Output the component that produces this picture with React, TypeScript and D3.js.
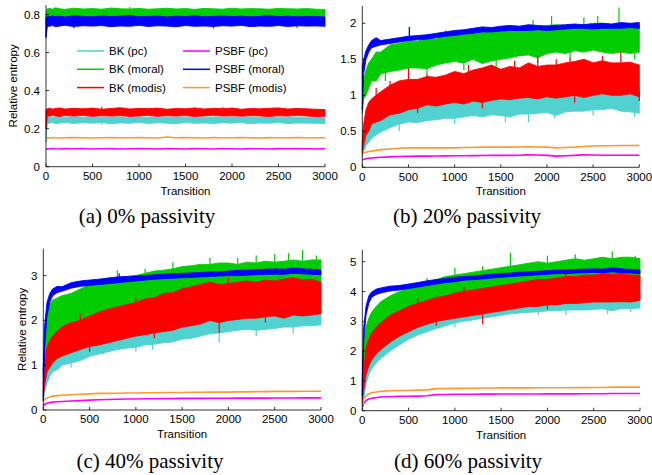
import React from 'react';
import * as d3 from 'd3';

// ---------- shared categories ----------
const T = [0, 15, 40, 70, 100, 150, 200, 300, 400, 500, 600, 700, 800, 900, 1000, 1100, 1200, 1300, 1400, 1500, 1600, 1700, 1800, 1900, 2000, 2100, 2200, 2300, 2400, 2500, 2600, 2700, 2800, 2900, 3000];
const X_TICKS = [0, 500, 1000, 1500, 2000, 2500, 3000];
const SERIES_NAMES = ['BK (pc)', 'BK (moral)', 'BK (modis)', 'PSBF (pc)', 'PSBF (moral)', 'PSBF (modis)'];
const CAPTIONS = ['(a) 0% passivity', '(b) 20% passivity', '(c) 40% passivity', '(d) 60% passivity'];
const Y_TICKS_A = [0, 0.2, 0.4, 0.6, 0.8];
const Y_TICKS_B = [0, 0.5, 1, 1.5, 2];
const Y_TICKS_C = [0, 1, 2, 3];
const Y_TICKS_D = [0, 1, 2, 3, 4, 5];

// ---------- (a) 0% passivity ----------
const A_CYAN_LO = [0.13, 0.23, 0.228, 0.232, 0.226, 0.23, 0.233, 0.227, 0.231, 0.229, 0.232, 0.226, 0.23, 0.228, 0.233, 0.227, 0.231, 0.229, 0.226, 0.232, 0.228, 0.23, 0.227, 0.231, 0.229, 0.233, 0.226, 0.23, 0.228, 0.232, 0.227, 0.23, 0.229, 0.228, 0.227];
const A_CYAN_HI = [0.25, 0.26, 0.262, 0.258, 0.261, 0.263, 0.259, 0.262, 0.26, 0.264, 0.258, 0.261, 0.263, 0.259, 0.262, 0.26, 0.263, 0.258, 0.261, 0.26, 0.263, 0.259, 0.262, 0.26, 0.261, 0.258, 0.262, 0.26, 0.263, 0.259, 0.261, 0.26, 0.259, 0.258, 0.257];
const A_GREEN_LO = [0.68, 0.785, 0.788, 0.786, 0.79, 0.787, 0.789, 0.786, 0.79, 0.788, 0.785, 0.789, 0.787, 0.79, 0.786, 0.788, 0.789, 0.785, 0.79, 0.787, 0.788, 0.786, 0.79, 0.787, 0.789, 0.786, 0.788, 0.79, 0.787, 0.785, 0.789, 0.788, 0.786, 0.79, 0.787];
const A_GREEN_HI = [0.8, 0.83, 0.832, 0.828, 0.835, 0.83, 0.827, 0.833, 0.829, 0.831, 0.828, 0.834, 0.83, 0.829, 0.832, 0.828, 0.83, 0.833, 0.829, 0.831, 0.827, 0.832, 0.83, 0.828, 0.833, 0.829, 0.831, 0.83, 0.828, 0.832, 0.83, 0.829, 0.831, 0.828, 0.826];
const A_RED_LO = [0.2, 0.268, 0.265, 0.27, 0.267, 0.264, 0.269, 0.266, 0.27, 0.265, 0.268, 0.266, 0.269, 0.264, 0.267, 0.27, 0.265, 0.268, 0.266, 0.269, 0.264, 0.267, 0.27, 0.266, 0.268, 0.265, 0.269, 0.267, 0.264, 0.268, 0.266, 0.27, 0.267, 0.263, 0.265];
const A_RED_HI = [0.3, 0.305, 0.308, 0.302, 0.306, 0.309, 0.303, 0.307, 0.304, 0.308, 0.302, 0.306, 0.31, 0.303, 0.307, 0.305, 0.308, 0.302, 0.306, 0.304, 0.309, 0.303, 0.307, 0.305, 0.308, 0.302, 0.306, 0.304, 0.307, 0.309, 0.303, 0.306, 0.304, 0.302, 0.3];
const A_MAGENTA = [0.09, 0.094, 0.093, 0.095, 0.094, 0.093, 0.095, 0.094, 0.096, 0.093, 0.094, 0.095, 0.093, 0.094, 0.096, 0.094, 0.093, 0.095, 0.094, 0.093, 0.095, 0.094, 0.093, 0.096, 0.094, 0.093, 0.095, 0.094, 0.093, 0.095, 0.094, 0.096, 0.094, 0.093, 0.094];
const A_BLUE_LO = [0.68, 0.74, 0.738, 0.742, 0.736, 0.74, 0.743, 0.737, 0.741, 0.739, 0.742, 0.736, 0.74, 0.738, 0.743, 0.737, 0.741, 0.739, 0.736, 0.742, 0.738, 0.74, 0.737, 0.741, 0.739, 0.743, 0.736, 0.74, 0.738, 0.742, 0.737, 0.741, 0.739, 0.74, 0.738];
const A_BLUE_HI = [0.78, 0.79, 0.788, 0.792, 0.789, 0.791, 0.787, 0.793, 0.79, 0.788, 0.792, 0.789, 0.791, 0.795, 0.788, 0.79, 0.792, 0.787, 0.791, 0.789, 0.793, 0.788, 0.79, 0.792, 0.789, 0.791, 0.788, 0.79, 0.793, 0.789, 0.791, 0.788, 0.79, 0.789, 0.787];
const A_ORANGE = [0.15, 0.152, 0.151, 0.153, 0.152, 0.151, 0.152, 0.153, 0.152, 0.151, 0.152, 0.153, 0.152, 0.152, 0.153, 0.152, 0.151, 0.156, 0.152, 0.153, 0.152, 0.151, 0.153, 0.152, 0.152, 0.153, 0.152, 0.151, 0.153, 0.152, 0.152, 0.153, 0.152, 0.152, 0.152];
// isolated spikes: [transition, from, to]
const A_CYAN_SPIKES = [[600, 0.22, 0.235], [2600, 0.222, 0.235]];
const A_GREEN_SPIKES = [[900, 0.825, 0.84]];
const A_RED_SPIKES = [[600, 0.3, 0.315], [1900, 0.3, 0.313]];
const A_BLUE_SPIKES = [[300, 0.728, 0.745], [1800, 0.728, 0.745], [2700, 0.73, 0.745], [2350, 0.785, 0.8]];

// ---------- (b) 20% passivity ----------
const B_CYAN_LO = [0.15, 0.22, 0.3, 0.35, 0.4, 0.45, 0.49, 0.55, 0.6, 0.63, 0.62, 0.65, 0.66, 0.68, 0.68, 0.7, 0.72, 0.7, 0.73, 0.72, 0.7, 0.74, 0.74, 0.75, 0.76, 0.72, 0.77, 0.78, 0.78, 0.8, 0.8, 0.82, 0.78, 0.77, 0.75];
const B_CYAN_HI = [0.25, 0.45, 0.58, 0.65, 0.7, 0.78, 0.86, 0.9, 0.93, 0.96, 0.98, 1.0, 1.02, 1.0, 1.03, 1.04, 1.05, 1.06, 1.05, 1.08, 1.1, 1.08, 1.1, 1.12, 1.12, 1.15, 1.14, 1.16, 1.18, 1.2, 1.22, 1.19, 1.16, 1.15, 1.12];
const B_GREEN_LO = [0.75, 0.95, 1.0, 1.1, 1.2, 1.2, 1.3, 1.33, 1.35, 1.38, 1.38, 1.37, 1.42, 1.45, 1.47, 1.45, 1.5, 1.44, 1.48, 1.5, 1.52, 1.55, 1.56, 1.52, 1.58, 1.6, 1.58, 1.62, 1.6, 1.63, 1.6, 1.58, 1.6, 1.58, 1.6];
const B_GREEN_HI = [0.8, 1.2, 1.35, 1.45, 1.5, 1.6, 1.6, 1.7, 1.72, 1.75, 1.75, 1.8, 1.78, 1.85, 1.82, 1.88, 1.85, 1.88, 1.9, 1.88, 1.92, 1.9, 1.93, 1.95, 1.97, 1.98, 1.97, 1.97, 1.98, 2.0, 2.0, 1.98, 2.0, 1.98, 1.97];
const B_RED_LO = [0.2, 0.3, 0.45, 0.5, 0.6, 0.63, 0.65, 0.73, 0.75, 0.8, 0.82, 0.87, 0.85, 0.88, 0.9, 0.88, 0.92, 0.9, 0.93, 0.95, 0.94, 0.96, 0.97, 0.95, 0.98, 0.96, 0.98, 1.0, 0.97, 1.0, 1.02, 1.0, 1.0, 1.02, 0.98];
const B_RED_HI = [0.35, 0.6, 0.8, 0.9, 0.95, 1.0, 1.05, 1.14, 1.2, 1.22, 1.22, 1.26, 1.25, 1.28, 1.33, 1.3, 1.35, 1.38, 1.42, 1.36, 1.4, 1.38, 1.45, 1.4, 1.42, 1.42, 1.45, 1.47, 1.5, 1.45, 1.48, 1.45, 1.45, 1.46, 1.42];
const B_MAGENTA = [0.1, 0.11, 0.12, 0.125, 0.13, 0.135, 0.14, 0.145, 0.15, 0.152, 0.155, 0.155, 0.157, 0.158, 0.16, 0.16, 0.162, 0.163, 0.165, 0.165, 0.165, 0.168, 0.172, 0.17, 0.165, 0.155, 0.16, 0.165, 0.172, 0.17, 0.168, 0.168, 0.168, 0.167, 0.167];
const B_BLUE_LO = [0.8, 1.3, 1.5, 1.6, 1.66, 1.68, 1.7, 1.72, 1.74, 1.76, 1.77, 1.78, 1.8, 1.82, 1.83, 1.85, 1.86, 1.88, 1.88, 1.89, 1.9, 1.9, 1.9, 1.91, 1.9, 1.91, 1.92, 1.93, 1.93, 1.92, 1.93, 1.93, 1.93, 1.94, 1.93];
const B_BLUE_HI = [1.4, 1.5, 1.62, 1.7, 1.76, 1.8, 1.76, 1.78, 1.8, 1.82, 1.83, 1.84, 1.86, 1.88, 1.9, 1.91, 1.93, 1.95, 1.94, 1.96, 1.97, 1.96, 1.98, 1.97, 1.96, 1.97, 1.98, 1.99, 1.98, 1.99, 2.0, 1.99, 2.01, 2.0, 2.01];
const B_ORANGE = [0.18, 0.2, 0.21, 0.22, 0.225, 0.235, 0.245, 0.255, 0.265, 0.27, 0.27, 0.27, 0.272, 0.27, 0.27, 0.275, 0.275, 0.28, 0.28, 0.28, 0.28, 0.282, 0.285, 0.282, 0.28, 0.27, 0.275, 0.28, 0.288, 0.295, 0.3, 0.3, 0.302, 0.303, 0.305];
const B_CYAN_SPIKES = [[1800, 0.63, 0.76], [2950, 0.7, 0.8], [2080, 0.68, 0.78], [400, 0.5, 0.65], [1000, 0.6, 0.75], [1550, 0.62, 0.75], [2500, 0.72, 0.85], [2650, 1.1, 1.27]];
const B_GREEN_SPIKES = [[510, 1.7, 1.95], [1850, 1.85, 2.05], [2050, 1.9, 2.1], [2400, 1.9, 2.08], [2550, 1.9, 2.1], [2780, 1.95, 2.22], [1900, 1.45, 1.6], [2950, 1.5, 1.65], [250, 1.2, 1.4], [700, 1.3, 1.45], [1100, 1.35, 1.5], [1450, 1.38, 1.55], [2250, 1.5, 1.65], [900, 1.78, 1.9], [1300, 1.82, 1.95]];
const B_RED_SPIKES = [[500, 1.15, 1.38], [1900, 1.3, 1.55], [2100, 1.3, 1.5], [2800, 1.35, 1.6], [150, 0.95, 1.1], [300, 1.0, 1.2], [700, 1.1, 1.3], [1150, 1.2, 1.42], [1650, 1.3, 1.48], [2250, 1.3, 1.52], [2600, 1.35, 1.55], [600, 0.75, 0.9], [1300, 0.82, 0.95], [2300, 0.9, 1.05], [3000, 0.92, 1.05]];
const B_BLUE_SPIKES = [[510, 1.8, 1.95]];

// ---------- (c) 40% passivity ----------
const C_CYAN_LO = [0.2, 0.4, 0.6, 0.75, 0.85, 0.9, 1.0, 1.05, 1.1, 1.2, 1.25, 1.3, 1.35, 1.38, 1.4, 1.45, 1.47, 1.5, 1.52, 1.58, 1.6, 1.65, 1.7, 1.72, 1.75, 1.78, 1.8, 1.78, 1.8, 1.82, 1.85, 1.85, 1.88, 1.88, 1.9];
const C_CYAN_HI = [0.4, 0.85, 1.05, 1.18, 1.25, 1.35, 1.45, 1.5, 1.58, 1.65, 1.72, 1.8, 1.85, 1.9, 1.95, 1.95, 2.0, 2.03, 2.05, 2.1, 2.15, 2.2, 2.2, 2.22, 2.2, 2.22, 2.25, 2.25, 2.27, 2.27, 2.28, 2.3, 2.3, 2.28, 2.25];
const C_GREEN_LO = [0.8, 1.2, 1.3, 1.5, 1.6, 1.65, 1.8, 1.9, 2.0, 2.05, 2.15, 2.2, 2.25, 2.3, 2.35, 2.4, 2.42, 2.48, 2.52, 2.55, 2.6, 2.62, 2.65, 2.62, 2.7, 2.72, 2.74, 2.75, 2.78, 2.78, 2.8, 2.8, 2.82, 2.8, 2.8];
const C_GREEN_HI = [1.0, 1.8, 2.2, 2.35, 2.45, 2.5, 2.55, 2.6, 2.7, 2.8, 2.9, 2.95, 2.95, 2.98, 3.0, 3.05, 3.1, 3.12, 3.15, 3.2, 3.22, 3.25, 3.25, 3.28, 3.28, 3.25, 3.3, 3.28, 3.32, 3.3, 3.32, 3.35, 3.32, 3.35, 3.35];
const C_RED_LO = [0.3, 0.55, 0.85, 0.95, 1.05, 1.15, 1.2, 1.28, 1.35, 1.42, 1.45, 1.5, 1.55, 1.6, 1.65, 1.68, 1.72, 1.75, 1.78, 1.85, 1.88, 1.92, 2.0, 1.95, 2.0, 2.02, 2.05, 2.05, 2.08, 2.1, 2.05, 2.12, 2.1, 2.12, 2.15];
const C_RED_HI = [0.6, 1.1, 1.4, 1.55, 1.65, 1.75, 1.85, 1.95, 2.0, 2.1, 2.18, 2.25, 2.3, 2.35, 2.4, 2.48, 2.5, 2.6, 2.62, 2.7, 2.75, 2.8, 2.85, 2.8, 2.82, 2.85, 2.88, 2.85, 2.9, 2.88, 2.92, 2.95, 2.9, 2.92, 2.85];
const C_MAGENTA = [0.08, 0.13, 0.15, 0.165, 0.175, 0.185, 0.19, 0.2, 0.21, 0.22, 0.23, 0.235, 0.24, 0.245, 0.245, 0.25, 0.25, 0.255, 0.255, 0.26, 0.26, 0.26, 0.262, 0.262, 0.262, 0.265, 0.265, 0.265, 0.265, 0.268, 0.268, 0.268, 0.27, 0.27, 0.27];
const C_BLUE_LO = [0.2, 1.4, 2.1, 2.4, 2.55, 2.62, 2.65, 2.72, 2.76, 2.78, 2.8, 2.82, 2.84, 2.86, 2.88, 2.9, 2.92, 2.93, 2.94, 2.95, 2.96, 2.97, 2.98, 2.99, 3.0, 3.0, 3.01, 3.02, 3.03, 3.03, 3.03, 3.05, 3.04, 3.03, 3.02];
const C_BLUE_HI = [0.9, 1.9, 2.4, 2.6, 2.7, 2.76, 2.75, 2.84, 2.88, 2.9, 2.92, 2.94, 2.97, 2.98, 2.99, 3.0, 3.02, 3.03, 3.04, 3.05, 3.06, 3.07, 3.08, 3.08, 3.1, 3.12, 3.12, 3.13, 3.14, 3.15, 3.14, 3.17, 3.15, 3.14, 3.12];
const C_ORANGE = [0.19, 0.24, 0.27, 0.29, 0.31, 0.32, 0.33, 0.34, 0.35, 0.36, 0.37, 0.37, 0.375, 0.38, 0.38, 0.385, 0.385, 0.39, 0.39, 0.39, 0.395, 0.395, 0.4, 0.4, 0.4, 0.405, 0.405, 0.41, 0.41, 0.415, 0.415, 0.415, 0.42, 0.42, 0.42];
const C_CYAN_SPIKES = [[650, 1.25, 1.45], [1180, 1.35, 1.55], [1900, 1.5, 1.75], [2700, 1.7, 1.9], [300, 0.95, 1.1], [1000, 1.3, 1.45], [2300, 1.65, 1.82]];
const C_GREEN_SPIKES = [[800, 2.8, 3.12], [1400, 3.0, 3.3], [2100, 3.1, 3.4], [2300, 3.1, 3.45], [2650, 3.2, 3.5], [2800, 3.2, 3.57], [2950, 3.2, 3.45], [300, 1.75, 2.0], [600, 1.95, 2.2], [1000, 2.2, 2.4], [1550, 2.4, 2.6], [1100, 2.95, 3.15], [1800, 3.15, 3.4], [2500, 3.25, 3.48]];
const C_RED_SPIKES = [[1900, 1.72, 2.0], [1500, 2.5, 2.75], [2700, 2.7, 2.97], [400, 1.9, 2.15], [1000, 2.3, 2.5], [2000, 2.75, 2.95], [500, 1.3, 1.5], [1200, 1.6, 1.8], [2400, 1.95, 2.12]];
const C_BLUE_SPIKES: number[][] = [[820, 2.95, 3.05]];

// ---------- (d) 60% passivity ----------
const D_CYAN_LO = [0.2, 0.4, 0.9, 1.2, 1.4, 1.6, 1.75, 2.0, 2.2, 2.4, 2.54, 2.65, 2.76, 2.85, 2.95, 3.0, 3.05, 3.1, 3.15, 3.2, 3.25, 3.28, 3.3, 3.32, 3.35, 3.36, 3.38, 3.38, 3.38, 3.4, 3.42, 3.35, 3.43, 3.42, 3.45];
const D_CYAN_HI = [0.5, 1.1, 1.7, 2.0, 2.2, 2.4, 2.6, 2.8, 3.0, 3.15, 3.25, 3.35, 3.45, 3.5, 3.55, 3.6, 3.65, 3.7, 3.72, 3.77, 3.8, 3.83, 3.86, 3.88, 3.9, 3.9, 3.92, 3.95, 3.95, 3.97, 4.0, 4.0, 4.0, 4.0, 3.98];
const D_GREEN_LO = [0.8, 1.3, 1.8, 2.1, 2.3, 2.5, 2.7, 2.9, 3.1, 3.25, 3.4, 3.5, 3.6, 3.7, 3.75, 3.85, 3.9, 3.95, 4.0, 4.05, 4.1, 4.15, 4.18, 4.2, 4.22, 4.25, 4.28, 4.3, 4.32, 4.35, 4.36, 4.38, 4.4, 4.42, 4.4];
const D_GREEN_HI = [1.2, 2.2, 2.8, 3.1, 3.3, 3.5, 3.66, 3.85, 4.0, 4.1, 4.2, 4.3, 4.4, 4.5, 4.55, 4.6, 4.65, 4.7, 4.75, 4.8, 4.85, 4.9, 4.95, 5.0, 4.95, 5.0, 5.05, 5.1, 5.05, 5.1, 5.15, 5.1, 5.15, 5.15, 5.1];
const D_RED_LO = [0.3, 0.65, 1.2, 1.5, 1.7, 1.9, 2.05, 2.3, 2.5, 2.65, 2.8, 2.9, 3.0, 3.05, 3.1, 3.15, 3.2, 3.25, 3.3, 3.35, 3.4, 3.45, 3.5, 3.5, 3.55, 3.55, 3.6, 3.6, 3.62, 3.65, 3.65, 3.65, 3.66, 3.65, 3.7];
const D_RED_HI = [0.7, 1.3, 2.1, 2.4, 2.6, 2.8, 2.95, 3.2, 3.35, 3.5, 3.6, 3.7, 3.8, 3.85, 3.95, 4.0, 4.05, 4.1, 4.15, 4.2, 4.25, 4.3, 4.35, 4.4, 4.4, 4.45, 4.5, 4.5, 4.55, 4.55, 4.6, 4.58, 4.6, 4.55, 4.55];
const D_MAGENTA = [0.12, 0.25, 0.34, 0.39, 0.42, 0.44, 0.46, 0.47, 0.48, 0.485, 0.49, 0.5, 0.54, 0.545, 0.55, 0.55, 0.55, 0.555, 0.555, 0.56, 0.56, 0.56, 0.56, 0.56, 0.565, 0.565, 0.565, 0.565, 0.57, 0.57, 0.57, 0.575, 0.575, 0.575, 0.575];
const D_BLUE_LO = [0.5, 2.3, 3.2, 3.6, 3.8, 3.9, 3.95, 4.02, 4.05, 4.1, 4.15, 4.2, 4.25, 4.3, 4.33, 4.38, 4.4, 4.42, 4.45, 4.48, 4.5, 4.52, 4.54, 4.56, 4.58, 4.6, 4.6, 4.62, 4.63, 4.64, 4.63, 4.66, 4.63, 4.62, 4.6];
const D_BLUE_HI = [1.0, 2.8, 3.5, 3.85, 3.98, 4.08, 4.12, 4.18, 4.2, 4.25, 4.3, 4.36, 4.4, 4.44, 4.48, 4.5, 4.52, 4.55, 4.58, 4.6, 4.62, 4.65, 4.66, 4.68, 4.7, 4.72, 4.72, 4.74, 4.75, 4.76, 4.75, 4.8, 4.76, 4.74, 4.72];
const D_ORANGE = [0.2, 0.38, 0.5, 0.56, 0.6, 0.63, 0.65, 0.67, 0.68, 0.68, 0.69, 0.7, 0.74, 0.745, 0.75, 0.75, 0.755, 0.76, 0.76, 0.765, 0.765, 0.765, 0.765, 0.77, 0.77, 0.77, 0.77, 0.775, 0.775, 0.78, 0.78, 0.79, 0.79, 0.79, 0.79];
const D_CYAN_SPIKES = [[500, 2.5, 2.85], [1900, 3.2, 3.5], [2650, 3.25, 3.5], [1000, 2.8, 3.0], [2200, 3.2, 3.42], [2900, 3.3, 3.45]];
const D_GREEN_SPIKES = [[1000, 4.4, 4.8], [1600, 4.6, 5.3], [2000, 4.8, 5.2], [2700, 4.8, 5.35], [2950, 4.9, 5.2], [700, 4.2, 4.45], [1300, 4.6, 4.85], [2300, 5.0, 5.25], [400, 2.9, 3.15], [900, 3.5, 3.75], [1500, 3.9, 4.1]];
const D_RED_SPIKES = [[1300, 2.9, 3.3], [2800, 4.3, 4.6], [600, 3.5, 3.8], [1100, 3.9, 4.15], [2200, 4.4, 4.65], [800, 2.85, 3.05], [2000, 3.4, 3.6]];
const D_BLUE_SPIKES: number[][] = [];

// ---------- styles ----------
const COLORS = {
  cyan: '#52d1d1',
  green: '#00cc00',
  red: '#ff0000',
  magenta: '#ff00ff',
  blue: '#0000ff',
  orange: '#ff9933',
};
const LEGEND_COLORS = [COLORS.cyan, COLORS.green, COLORS.red, COLORS.magenta, COLORS.blue, COLORS.orange];
const SANS = '"Liberation Sans", Arial, Helvetica, sans-serif';
const SERIF = '"Liberation Serif", "Times New Roman", Times, serif';

type Band = { lo: number[]; hi: number[]; spikes?: number[][] };
type PanelDef = {
  x0: number; x1: number; yBottom: number; yTop: number; yMax: number;
  yTicks: number[]; yLabelX: number | null; caption: string; capX: number; capY: number;
  legend: boolean;
  cyan: Band; green: Band; red: Band; magenta: number[]; blue: Band; orange: number[];
};

const PANELS: PanelDef[] = [
  {
    x0: 46, x1: 325, yBottom: 166.7, yTop: 5, yMax: 0.85, yTicks: Y_TICKS_A, yLabelX: 13,
    caption: CAPTIONS[0], capX: 147, capY: 223, legend: true,
    cyan: { lo: A_CYAN_LO, hi: A_CYAN_HI, spikes: A_CYAN_SPIKES }, green: { lo: A_GREEN_LO, hi: A_GREEN_HI, spikes: A_GREEN_SPIKES },
    red: { lo: A_RED_LO, hi: A_RED_HI, spikes: A_RED_SPIKES }, magenta: A_MAGENTA,
    blue: { lo: A_BLUE_LO, hi: A_BLUE_HI, spikes: A_BLUE_SPIKES }, orange: A_ORANGE,
  },
  {
    x0: 362.3, x1: 639.3, yBottom: 167.3, yTop: 6, yMax: 2.24, yTicks: Y_TICKS_B, yLabelX: null,
    caption: CAPTIONS[1], capX: 467, capY: 223, legend: false,
    cyan: { lo: B_CYAN_LO, hi: B_CYAN_HI, spikes: B_CYAN_SPIKES }, green: { lo: B_GREEN_LO, hi: B_GREEN_HI, spikes: B_GREEN_SPIKES },
    red: { lo: B_RED_LO, hi: B_RED_HI, spikes: B_RED_SPIKES }, magenta: B_MAGENTA,
    blue: { lo: B_BLUE_LO, hi: B_BLUE_HI, spikes: B_BLUE_SPIKES }, orange: B_ORANGE,
  },
  {
    x0: 43.3, x1: 321, yBottom: 410, yTop: 248.7, yMax: 3.6, yTicks: Y_TICKS_C, yLabelX: 22,
    caption: CAPTIONS[2], capX: 150, capY: 468, legend: false,
    cyan: { lo: C_CYAN_LO, hi: C_CYAN_HI, spikes: C_CYAN_SPIKES }, green: { lo: C_GREEN_LO, hi: C_GREEN_HI, spikes: C_GREEN_SPIKES },
    red: { lo: C_RED_LO, hi: C_RED_HI, spikes: C_RED_SPIKES }, magenta: C_MAGENTA,
    blue: { lo: C_BLUE_LO, hi: C_BLUE_HI, spikes: C_BLUE_SPIKES }, orange: C_ORANGE,
  },
  {
    x0: 362.3, x1: 640, yBottom: 410.7, yTop: 249.8, yMax: 5.4, yTicks: Y_TICKS_D, yLabelX: null,
    caption: CAPTIONS[3], capX: 468, capY: 468, legend: false,
    cyan: { lo: D_CYAN_LO, hi: D_CYAN_HI, spikes: D_CYAN_SPIKES }, green: { lo: D_GREEN_LO, hi: D_GREEN_HI, spikes: D_GREEN_SPIKES },
    red: { lo: D_RED_LO, hi: D_RED_HI, spikes: D_RED_SPIKES }, magenta: D_MAGENTA,
    blue: { lo: D_BLUE_LO, hi: D_BLUE_HI, spikes: D_BLUE_SPIKES }, orange: D_ORANGE,
  },
];

function Panel({ p }: { p: PanelDef }) {
  const x = d3.scaleLinear().domain([0, 3000]).range([p.x0, p.x1]);
  const y = d3.scaleLinear().domain([0, p.yMax]).range([p.yBottom, p.yTop]);

  const bandPath = (b: Band) =>
    d3.area<number>()
      .x((_, i) => x(T[i]))
      .y0((_, i) => y(b.lo[i]))
      .y1((_, i) => y(b.hi[i]))(b.lo) || '';
  const linePath = (v: number[]) =>
    d3.line<number>().x((_, i) => x(T[i])).y((d) => y(d))(v) || '';

  const band = (b: Band, color: string) => (
    <g>
      <path d={bandPath(b)} fill={color} stroke={color} strokeWidth={0.9} strokeLinejoin="miter" />
      {(b.spikes || []).map((s, k) => (
        <line key={k} x1={x(s[0])} x2={x(s[0])} y1={y(s[1])} y2={y(s[2])} stroke={color} strokeWidth={1.2} />
      ))}
    </g>
  );

  return (
    <g>
      {band(p.cyan, COLORS.cyan)}
      {band(p.green, COLORS.green)}
      {band(p.red, COLORS.red)}
      <path d={linePath(p.magenta)} fill="none" stroke={COLORS.magenta} strokeWidth={1.6} />
      {band(p.blue, COLORS.blue)}
      <path d={linePath(p.orange)} fill="none" stroke={COLORS.orange} strokeWidth={1.6} />

      {/* axes */}
      <line x1={p.x0} x2={p.x0} y1={p.yTop} y2={p.yBottom} stroke="#000" strokeWidth={0.8} />
      <line x1={p.x0} x2={p.x1} y1={p.yBottom} y2={p.yBottom} stroke="#000" strokeWidth={0.8} />
      {X_TICKS.map((t) => (
        <g key={'x' + t}>
          <line x1={x(t)} x2={x(t)} y1={p.yBottom} y2={p.yBottom - 3} stroke="#000" strokeWidth={0.8} />
          <text x={x(t)} y={p.yBottom + 13.3} textAnchor="middle" fontFamily={SANS} fontSize={11.5} fill="#000">{t}</text>
        </g>
      ))}
      {p.yTicks.map((v) => (
        <g key={'y' + v}>
          <line x1={p.x0} x2={p.x0 + 3} y1={y(v)} y2={y(v)} stroke="#000" strokeWidth={0.8} />
          <text x={p.x0 - 6} y={y(v)} dy="0.35em" textAnchor="end" fontFamily={SANS} fontSize={11.5} fill="#000">{String(v)}</text>
        </g>
      ))}
      <text x={(p.x0 + p.x1) / 2} y={p.yBottom + 28} textAnchor="middle" fontFamily={SANS} fontSize={11.5} fill="#000">Transition</text>
      {p.yLabelX !== null && (
        <text transform={`translate(${p.yLabelX},${(p.yTop + p.yBottom) / 2}) rotate(-90)`} dy="0.35em" textAnchor="middle" fontFamily={SANS} fontSize={11.5} fill="#000">Relative entropy</text>
      )}
      <text x={p.capX} y={p.capY} textAnchor="middle" fontFamily={SERIF} fontSize={21} fill="#000">{p.caption}</text>

      {p.legend && (
        <g>
          {SERIES_NAMES.map((name, i) => {
            const col = Math.floor(i / 3);
            const row = i % 3;
            const lx = col === 0 ? 77 : 183;
            const ly = 51 + row * 18.3;
            return (
              <g key={name}>
                <line x1={lx} x2={lx + 27} y1={ly} y2={ly} stroke={LEGEND_COLORS[i]} strokeWidth={1.5} />
                <text x={lx + 32} y={ly} dy="0.35em" fontFamily={SANS} fontSize={11.5} fill="#000">{name}</text>
              </g>
            );
          })}
        </g>
      )}
    </g>
  );
}

export default function App() {
  return (
    <svg width={652} height={475} viewBox="0 0 652 475" style={{ position: 'absolute', left: 0, top: 0, background: '#fff' }}>
      <rect x={0} y={0} width={652} height={475} fill="#fff" />
      {PANELS.map((p, i) => <Panel key={i} p={p} />)}
    </svg>
  );
}
